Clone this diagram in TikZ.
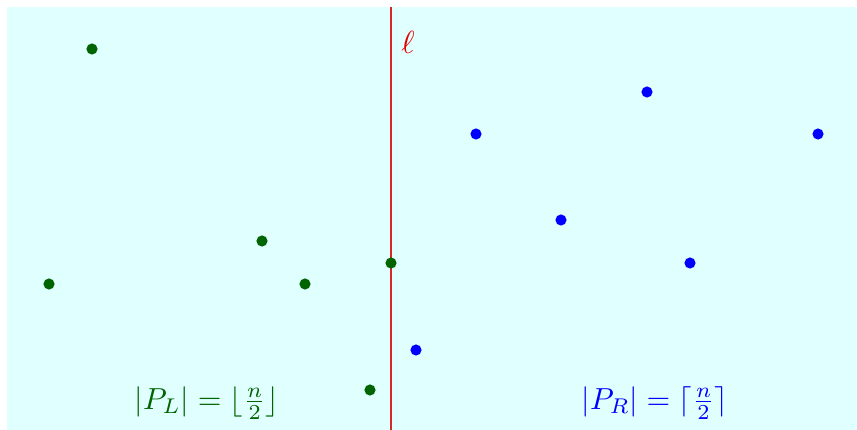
\documentclass[tikz,border=0pt]{standalone}
\definecolor{bgcyan}{RGB}{224,255,255}
\definecolor{ptgreen}{RGB}{0,100,0}
\definecolor{linered}{RGB}{215,40,40}
\tikzset{
  gdot/.style={circle,fill=ptgreen,inner sep=0pt,minimum size=9.5pt},
  bdot/.style={circle,fill=blue,inner sep=0pt,minimum size=9.5pt},
  lbl/.style={scale=2.6,inner sep=0pt}
}
\begin{document}
\begin{tikzpicture}[x=0.03cm,y=-0.03cm]
\useasboundingbox (0,0) rectangle (857,430);
\fill[bgcyan] (7,7) rectangle (857,430);
\coordinate (ltop) at (391,7);
\coordinate (lbot) at (391,430);
\draw[linered,line width=1pt] (ltop) -- (lbot);
\node[lbl,scale=1.05,text=red!90!black] (ell) at (408,42) {$\ell$};
% green points
\node[gdot] (g1) at (92,49) {};
\node[gdot] (g2) at (262,241) {};
\node[gdot] (g3) at (49,284) {};
\node[gdot] (g4) at (305,284) {};
\node[gdot] (g5) at (391,263) {};
\node[gdot] (g6) at (370,390) {};
% blue points
\node[bdot] (b1) at (476,134) {};
\node[bdot] (b2) at (647,92) {};
\node[bdot] (b3) at (818,134) {};
\node[bdot] (b4) at (561,220) {};
\node[bdot] (b5) at (690,263) {};
\node[bdot] (b6) at (416,350) {};
% labels
\node[lbl,text=ptgreen] (pl) at (207,403) {$|P_L|=\lfloor\frac{n}{2}\rfloor$};
\node[lbl,text=blue] (pr) at (655,403) {$|P_R|=\lceil\frac{n}{2}\rceil$};
\end{tikzpicture}
\end{document}
